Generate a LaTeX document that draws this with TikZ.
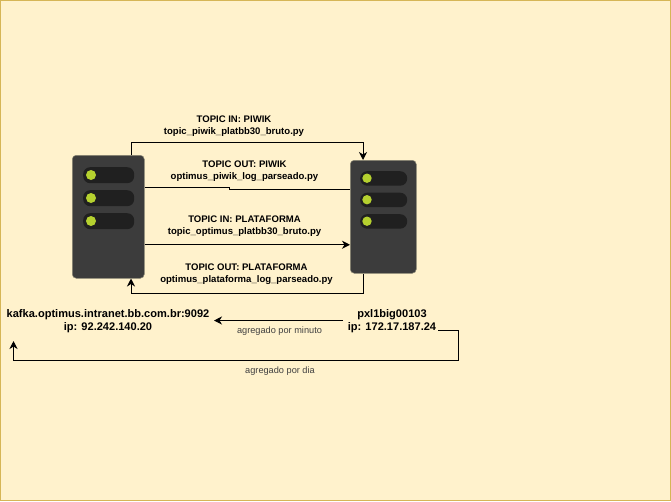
\documentclass[tikz,border=0pt]{standalone}
\usepackage{fontspec}
\setmainfont{Liberation Sans}
\usetikzlibrary{arrows.meta, positioning}
\tikzset{>={Stealth[length=8pt,width=8pt,inset=2.5pt]}}
\definecolor{bgfill}{HTML}{FFF2CC}
\definecolor{bgline}{HTML}{D6B656}
\definecolor{srvbody}{HTML}{3C3C3C}
\definecolor{srvedge}{HTML}{8A8674}
\definecolor{srvrow}{HTML}{202020}
\definecolor{srvled}{HTML}{B5D12F}
\tikzset{
  srvbox/.style={draw=srvedge, line width=.5pt, fill=srvbody, rounded corners=4pt, inner sep=0pt, anchor=north west},
  srvslot/.style={fill=srvrow, rounded corners=7pt, inner sep=0pt, anchor=north west},
  srvlamp/.style={circle, fill=srvled, inner sep=0pt, minimum size=10pt},
  topiclabel/.style={font=\fontsize{9.55}{12.2}\selectfont\bfseries, align=center, inner sep=0pt},
  hostlabel/.style={font=\fontsize{11.05}{13}\selectfont\bfseries, align=center, inner sep=0pt},
  linklabel/.style={font=\fontsize{9.2}{11}\selectfont, text=black!75, inner sep=0pt},
  link/.style={line width=1pt}
}

\begin{document}
\begin{tikzpicture}[x=1pt, y=-1pt]
\useasboundingbox (0,0) rectangle (671,501);
\draw[bgline, fill=bgfill, line width=1pt](.5,.5) rectangle (670,500);

\node[srvbox, minimum width=72pt, minimum height=123pt] (srvkafka) at (72,155) {};
\node[srvbox, minimum width=66pt, minimum height=113pt] (srvpxl) at (350,160) {};

\foreach \y in {167,190,213}{
  \node[srvslot, minimum width=51pt, minimum height=16pt] at (83,\y) {};
  \node[srvlamp] at (91,\y+8) {};
}
\foreach \y in {171,192.5,214}{
  \node[srvslot, minimum width=47pt, minimum height=14.5pt] at (360,\y) {};
  \node[srvlamp, minimum size=9.4pt] at (367,\y+7.2) {};
}

\node[topiclabel] (piwikin) at (234,126.5) {TOPIC IN: PIWIK\\topic\_piwik\_platbb30\_bruto.py};
\node[topiclabel] (piwikout) at (244.5,171.5) {TOPIC OUT: PIWIK\\optimus\_piwik\_log\_parseado.py};
\node[topiclabel] (platin) at (244.5,226) {TOPIC IN: PLATAFORMA\\topic\_optimus\_platbb30\_bruto.py};
\node[topiclabel] (platout) at (246.5,274) {TOPIC OUT: PLATAFORMA\\optimus\_plataforma\_log\_parseado.py};

\node[hostlabel] (kafka) at (108,321.5) {kafka.optimus.intranet.bb.com.br:9092\\ip: 92.242.140.20};
\node[hostlabel] (pxl) at (392,321.5) {pxl1big00103\\ip: 172.17.187.24};
\node[linklabel] (minuto) at (279.5,331.5) {agregado por minuto};
\node[linklabel] (dia) at (280,371.5) {agregado por dia};

\coordinate (kafkain) at (13.5,341);
\coordinate (pxlout) at (438,330.5);
\coordinate (minstart) at (343,320.5);
\coordinate (minend) at (214,320.5);

\draw[->, link]([xshift=-13.5pt]srvkafka.north east)--++(0,-12.5)-|([xshift=-53.5pt]srvpxl.north east);
\draw[link]([yshift=29pt]srvkafka.east)--++(85,0)--++(0,2)--([yshift=27pt]srvpxl.west);
\draw[->, link]([yshift=-28pt]srvkafka.east)--([yshift=-28pt]srvpxl.west);
\draw[->, link]([xshift=-53.5pt]srvpxl.south east)--++(0,19.5)-|([xshift=-13.5pt]srvkafka.south east);
\draw[->, link](minstart)--(minend);
\draw[->, link](pxlout)-|(458.5,360.5)-|(kafkain);

\end{tikzpicture}
\end{document}
